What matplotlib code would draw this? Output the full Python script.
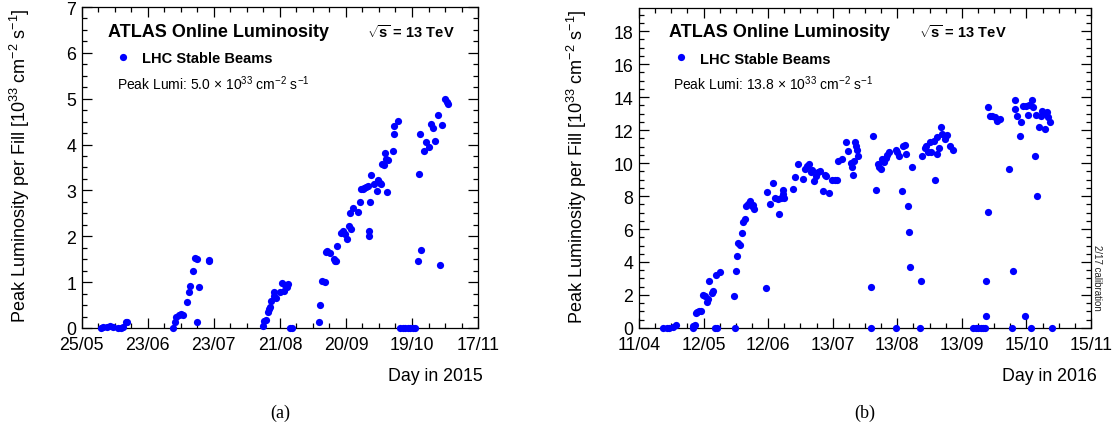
import matplotlib
matplotlib.use("Agg")
import matplotlib.pyplot as plt
from matplotlib.ticker import MultipleLocator, AutoMinorLocator
import numpy as np

plt.rcParams['font.family'] = ['Liberation Sans', 'DejaVu Sans']
plt.rcParams['mathtext.fontset'] = 'custom'
plt.rcParams['mathtext.rm'] = 'Liberation Sans'
plt.rcParams['mathtext.bf'] = 'Liberation Sans:bold'
plt.rcParams['mathtext.it'] = 'Liberation Sans:italic'

# 2015 fills: day of year, peak luminosity [1e33 cm-2 s-1]
day_2015 = [153.4, 154.6, 156.1, 157.6, 158.8, 160.9, 162.3, 163.5, 164.6, 165.0,
            185.7, 186.5, 186.9, 188.0, 189.0, 189.9, 191.7, 192.6, 193.1, 194.3,
            195.1, 196.1, 196.4, 197.3, 201.3, 201.4,
            225.4, 226.0, 226.9, 227.5, 228.0, 228.4, 229.0, 230.2, 230.2, 231.4,
            233.1, 233.9, 234.9, 235.4, 236.1, 236.4, 237.3, 238.3,
            250.2, 250.6, 251.7, 252.9, 253.4, 253.9, 255.4, 256.9, 257.3, 257.7,
            258.3, 260.1, 261.0, 262.0, 262.8, 263.5, 264.6, 264.3, 265.4, 267.7,
            268.7, 269.1, 269.9, 270.5, 271.2, 272.0, 272.4, 272.4, 273.1, 273.4,
            274.6, 276.1, 276.4, 277.3, 277.9, 278.4, 279.4, 279.8, 280.3, 280.9,
            280.6, 283.2, 283.5, 283.8, 285.6,
            286.5, 287.7, 288.7, 289.7, 290.9, 292.1, 293.1,
            294.3, 294.6, 295.1, 295.8, 296.9, 298.0, 299.1, 300.3, 301.0, 302.1,
            303.3, 304.3, 305.0, 306.5, 307.2, 307.5]
lumi_2015 = [0.01, 0.02, 0.03, 0.04, 0.03, 0.01, 0.01, 0.02, 0.14, 0.13,
             0.00, 0.12, 0.23, 0.28, 0.30, 0.28, 0.57, 0.78, 0.92, 1.25,
             1.52, 0.14, 1.50, 0.89, 1.49, 1.45,
             0.05, 0.16, 0.18, 0.34, 0.41, 0.45, 0.58, 0.78, 0.70, 0.65,
             0.79, 0.99, 0.81, 0.94, 0.89, 0.96, 0.00, 0.00,
             0.12, 0.50, 1.03, 1.01, 1.65, 1.68, 1.63, 1.50, 1.45, 1.47,
             1.78, 2.08, 2.11, 2.05, 1.94, 2.23, 2.16, 2.51, 2.61, 2.52,
             2.75, 3.04, 3.04, 3.05, 3.07, 3.09, 2.11, 2.01, 2.75, 3.33,
             3.14, 2.99, 3.23, 3.17, 3.14, 3.57, 3.55, 3.81, 3.68, 3.66,
             2.96, 3.86, 4.41, 4.23, 4.52,
             0.0, 0.0, 0.0, 0.0, 0.0, 0.0, 0.0,
             1.47, 3.36, 4.23, 1.71, 3.86, 4.05, 3.95, 4.44, 4.37, 4.07,
             4.64, 1.37, 4.42, 5.00, 4.93, 4.88]

# 2016 fills
day_2016 = [113.7, 115.3, 116.6, 118.2, 119.8, 127.9, 128.2, 129.0, 129.5, 130.1,
            131.1, 131.7, 132.7, 133.8, 134.9, 135.4, 135.7, 137.0, 137.8, 138.6,
            139.4, 139.1, 141.0,
            148.0, 148.3, 148.7, 149.4, 149.9, 150.7, 151.5, 152.0, 153.1, 153.6,
            154.7, 155.5, 156.3, 156.8, 157.4,
            163.2, 163.8, 165.1, 166.4, 167.5, 169.1, 169.6, 170.3, 171.2, 171.6,
            172.0, 176.1, 177.2, 178.5, 180.9, 182.0, 182.8, 184.1, 184.7, 185.2,
            186.3, 187.3, 188.4, 189.2, 190.5, 191.6, 192.4, 193.7, 194.9, 196.5,
            197.3, 198.1, 199.7, 201.8, 202.9, 204.0, 204.5, 205.0, 205.6, 206.1,
            206.6, 207.2, 207.7,
            214.1, 214.1, 214.9, 216.5, 217.3, 217.8, 218.5, 219.4, 220.2, 221.0,
            221.7, 222.6, 225.9, 225.9, 226.6, 227.5, 228.7, 229.4, 230.2, 230.7,
            231.5, 232.3, 232.6, 233.7, 237.7, 238.2,
            238.7, 239.8, 240.6, 241.4, 242.2, 243.0, 244.2, 244.7, 245.5, 245.8,
            246.7, 247.5, 247.9, 249.5, 250.3, 251.9, 253.2,
            263.1, 264.4, 265.5, 266.7, 267.9, 268.7,
            269.2, 269.5, 270.2, 270.4, 271.5, 272.4, 273.6, 274.7, 276.0,
            280.5, 282.1, 282.4, 283.2, 283.2, 284.3, 285.6, 286.4, 287.2, 288.0,
            288.5, 289.6, 290.1, 291.2, 291.7, 292.0, 292.8, 293.3, 293.9, 294.9,
            296.0, 296.5, 297.6, 298.1, 298.8, 299.3, 300.1, 301.4]
lumi_2016 = [0.0, 0.0, 0.02, 0.04, 0.18, 0.0, 0.14, 0.18, 0.89, 0.95,
             1.03, 1.05, 2.00, 1.96, 1.60, 1.76, 2.87, 2.10, 2.26, 0.0,
             0.0, 3.21, 3.41,
             1.92, 0.0, 3.47, 4.38, 5.15, 5.03, 5.74, 6.40, 6.61, 7.41,
             7.52, 7.72, 7.41, 7.45, 7.21,
             2.40, 8.22, 7.52, 8.79, 7.86, 7.82, 6.91, 7.86, 8.12, 8.38,
             7.86, 8.42, 9.13, 9.92, 9.03, 9.64, 9.84, 9.94, 9.47, 9.60,
             8.93, 9.23, 9.43, 9.54, 8.30, 9.27, 9.23, 8.18, 8.99, 8.97,
             8.95, 10.10, 10.24, 11.25, 10.75, 10.00, 9.74, 9.29, 10.14, 11.25,
             11.05, 10.81, 10.40,
             2.46, 0.0, 11.62, 8.38, 9.94, 9.74, 9.64, 10.24, 10.04, 10.28,
             10.48, 10.65, 0.0, 10.81, 10.65, 10.40, 8.32, 11.05, 11.09, 10.55,
             7.41, 5.84, 3.68, 9.74, 0.0, 2.87,
             10.44, 10.89, 11.05, 10.65, 11.25, 10.69, 11.35, 8.99, 11.56, 10.55,
             10.89, 12.16, 11.76, 11.45, 11.70, 11.01, 10.81,
             0.0, 0.0, 0.0, 0.0, 0.0, 0.0,
             0.75, 2.87, 7.01, 13.37, 12.83, 12.83, 12.77, 12.57, 12.67,
             9.64, 0.0, 3.47, 13.85, 13.27, 12.83, 11.62, 12.50, 13.43, 0.71,
             13.47, 12.91, 13.51, 0.0, 13.80, 13.37, 10.44, 12.91, 8.02, 12.16,
             12.87, 13.17, 12.06, 12.97, 13.07, 12.77, 12.50, 0.0]

labels_2015 = ['25/05', '23/06', '23/07', '21/08', '20/09', '19/10', '17/11']
labels_2016 = ['11/04', '12/05', '12/06', '13/07', '13/08', '13/09', '15/10', '15/11']
xrange_2015 = (145, 321)
xrange_2016 = (102, 320)

ylabel = r'Peak Luminosity per Fill [10$^{33}$ cm$^{-2}$ s$^{-1}$]'

fig = plt.figure(figsize=(11.18, 4.31), dpi=100)
ax1 = fig.add_axes([0.0731, 0.2367, 0.3545, 0.7447])
ax2 = fig.add_axes([0.5716, 0.2367, 0.4043, 0.7425])

panels = [
    (ax1, day_2015, lumi_2015, labels_2015, xrange_2015, 7.0, 1, 0.25,
     'Day in 2015', '(a)', 0.72, 0.0525, 0.09),
    (ax2, day_2016, lumi_2016, labels_2016, xrange_2016, 19.4, 2, 0.5,
     'Day in 2016', '(b)', 0.62, 0.0467, 0.075),
]

for ax, days, lumi, labels, xr, ymax, ymaj, ymin, xlab, tag, sx, lx, px in panels:
    ax.plot(days, lumi, 'o', color='#0000ff', markersize=5.2, markeredgewidth=0,
            label='LHC Stable Beams', clip_on=False, zorder=3)
    ax.set_xlim(*xr)
    ax.set_ylim(0, ymax)
    ax.set_xticks(np.linspace(xr[0], xr[1], len(labels)))
    ax.set_xticklabels(labels)
    ax.xaxis.set_minor_locator(AutoMinorLocator(4))
    ax.yaxis.set_major_locator(MultipleLocator(ymaj))
    ax.yaxis.set_minor_locator(MultipleLocator(ymin))
    ax.tick_params(which='both', direction='in', top=True, right=True,
                   labelsize=12.8, width=0.9, colors='black')
    ax.tick_params(which='major', length=7, pad=4)
    ax.tick_params(axis='x', which='major', pad=5.5)
    ax.tick_params(which='minor', length=3.5)
    for s in ax.spines.values():
        s.set_linewidth(0.9)

    ax.set_ylabel(ylabel, fontsize=13, loc='top')
    ax.yaxis.set_label_coords(-50.0 / (ax.get_position().width * 1118), 1.0)
    ax.set_xlabel(xlab, fontsize=12.8, loc='right')
    ax.xaxis.set_label_coords(1.013, -0.122)

    ax.text(0.066, 0.925, 'ATLAS Online Luminosity', transform=ax.transAxes,
            fontsize=13, fontweight='bold', va='center')
    ax.text(sx, 0.925, r'$\mathbf{\sqrt{s}}$ = 13 TeV',
            transform=ax.transAxes, fontsize=10.5, fontweight='bold', va='center')
    ax.legend(loc='upper left', bbox_to_anchor=(lx, 0.882), frameon=False,
              prop={'weight': 'bold', 'size': 10.5}, handletextpad=0.3,
              borderaxespad=0, markerscale=1.0)
    peak = max(lumi)
    ax.text(px, 0.765,
            r'Peak Lumi: %.1f $\times$ 10$^{33}$ cm$^{-2}$ s$^{-1}$' % peak,
            transform=ax.transAxes, fontsize=10, va='center')

    pos = ax.get_position()
    fig.text(pos.x0 + pos.width / 2, 0.042, tag, ha='center', va='center',
             fontsize=13, family='Liberation Serif')

ax2.text(1.013, 0.16, '2/17 calibration', transform=ax2.transAxes, rotation=270,
         fontsize=7, va='center', ha='center', color='#222222')

fig.savefig('out.png', dpi=100)
